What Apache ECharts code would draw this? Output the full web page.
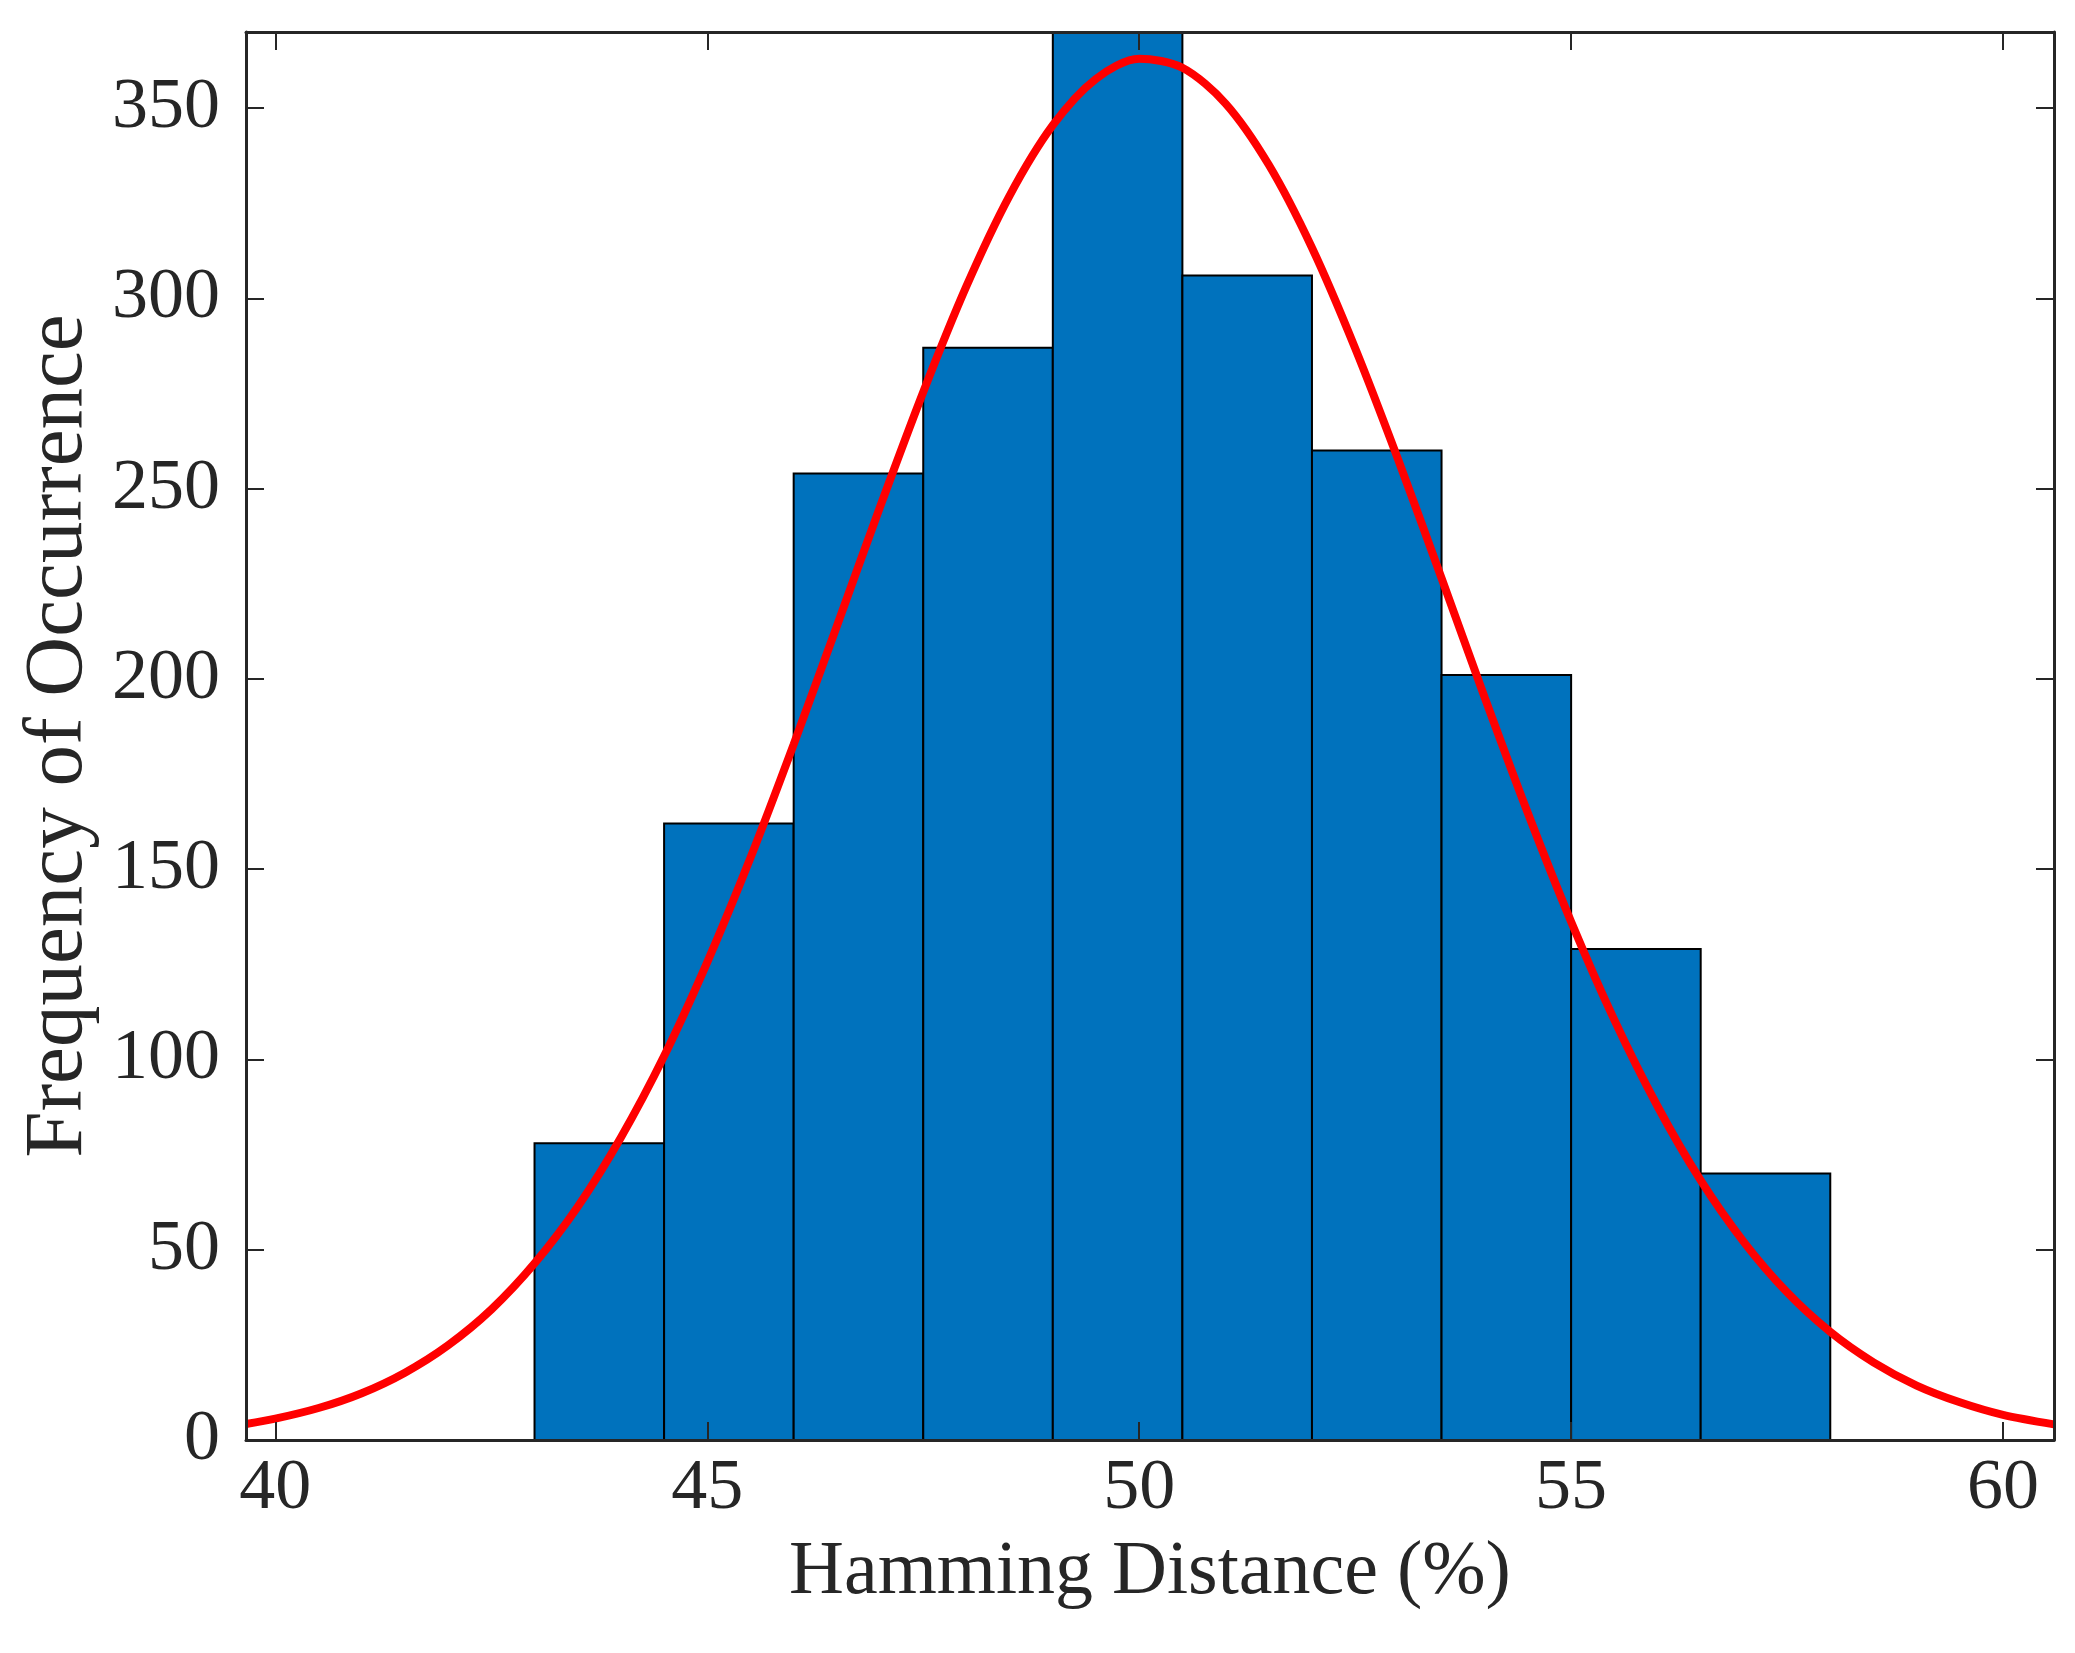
<!DOCTYPE html>
<html>
<head>
<meta charset="utf-8">
<title>Hamming Distance histogram</title>
<script src="https://cdn.jsdelivr.net/npm/echarts@6/dist/echarts.min.js"></script>
<style>
  html, body { margin: 0; padding: 0; background: #fff; }
  #hist-chart { width: 2075px; height: 1653px; }
</style>
</head>
<body>
<div id="hist-chart"></div>
<script>
// histogram bins (left/right edges) and counts
var binLeft = [43, 44.5, 46, 47.5, 49, 50.5, 52, 53.5, 55, 56.5];
var binRight = [44.5, 46, 47.5, 49, 50.5, 52, 53.5, 55, 56.5, 58];
var binCount = [78, 162, 254, 287, 376, 306, 260, 201, 129, 70];

// fitted curve
var fitX = [39.66, 40, 40.5, 41, 41.5, 42, 42.5, 43, 43.5, 44, 44.5, 45, 45.5, 46, 46.5, 47, 47.5, 48, 48.5, 49, 49.5, 50,
            50.5, 51, 51.5, 52, 52.5, 53, 53.5, 54, 54.5, 55, 55.5, 56, 56.5, 57, 57.5, 58, 58.5, 59, 59.5, 60, 60.59];
var fitY = [4.2, 5.6, 8.4, 12.3, 17.7, 24.9, 34.3, 46.4, 61.3, 79.5, 100.9, 125.6, 153.0, 182.8, 213.9, 245.2, 275.4, 303.2, 327.0, 345.5, 357.7, 363,
            360.6, 351.2, 335.1, 313.3, 286.9, 257.5, 226.5, 195.1, 164.7, 136.2, 110.4, 87.7, 68.2, 52.0, 38.8, 28.4, 20.4, 14.3, 9.9, 6.6, 4.1];

var xTicks = [40, 45, 50, 55, 60];

var font = '"Liberation Serif", "Times New Roman", serif';
var axisColor = '#262626';

var histData = binLeft.map(function (l, i) { return [l, binRight[i], binCount[i]]; });
var fitData = fitX.map(function (x, i) { return [x, fitY[i]]; });

var dom = document.getElementById("hist-chart");
var myChart = echarts.init(dom);

var axisLine = { show: true, onZero: false, lineStyle: { color: axisColor, width: 3 } };
var tickStyle = { color: axisColor, width: 2 };

var option = {
    animation: false,
    grid: { left: 246, right: 21, top: 32, bottom: 213 },
    xAxis: [
        {
            type: 'value', position: 'bottom', min: 39.66, max: 60.59, z: 10,
            axisLine: axisLine,
            axisTick: { show: true, inside: true, length: 18, customValues: xTicks, lineStyle: tickStyle },
            axisLabel: { customValues: xTicks, fontFamily: font, fontSize: 72, color: axisColor, margin: 13 },
            splitLine: { show: false },
            name: 'Hamming Distance (%)', nameLocation: 'middle', nameGap: 95,
            nameTextStyle: { fontFamily: font, fontSize: 76, color: axisColor }
        },
        {
            type: 'value', position: 'top', min: 39.66, max: 60.59, z: 10,
            axisLine: axisLine,
            axisTick: { show: true, inside: true, length: 18, customValues: xTicks, lineStyle: tickStyle },
            axisLabel: { show: false },
            splitLine: { show: false }
        }
    ],
    yAxis: [
        {
            type: 'value', position: 'left', min: 0, max: 370, interval: 50, z: 10,
            axisLine: axisLine,
            axisTick: { show: true, inside: true, length: 18, lineStyle: tickStyle },
            axisLabel: {
                fontFamily: font, fontSize: 72, color: axisColor, margin: 26,
                showMaxLabel: false
            },
            splitLine: { show: false },
            name: 'Frequency of Occurrence', nameLocation: 'middle', nameGap: 142,
            nameTextStyle: { fontFamily: font, fontSize: 83, color: axisColor }
        },
        {
            type: 'value', position: 'right', min: 0, max: 370, interval: 50, z: 10,
            axisLine: axisLine,
            axisTick: { show: true, inside: true, length: 18, lineStyle: tickStyle },
            axisLabel: { show: false },
            splitLine: { show: false }
        }
    ],
    series: [
        {
            type: 'custom',
            clip: true,
            z: 2,
            data: histData,
            renderItem: function (params, api) {
                var p0 = api.coord([api.value(0), api.value(2)]);
                var p1 = api.coord([api.value(1), 0]);
                return {
                    type: 'rect',
                    shape: { x: p0[0], y: p0[1], width: p1[0] - p0[0], height: p1[1] - p0[1] },
                    style: { fill: '#0072BD', stroke: '#000000', lineWidth: 2 }
                };
            }
        },
        {
            type: 'line',
            data: fitData,
            smooth: 0.3,
            showSymbol: false,
            clip: true,
            z: 3,
            lineStyle: { color: '#FF0000', width: 8 }
        }
    ]
};

if (option && typeof option === "object") {
    myChart.setOption(option, true);
}
</script>
</body>
</html>
